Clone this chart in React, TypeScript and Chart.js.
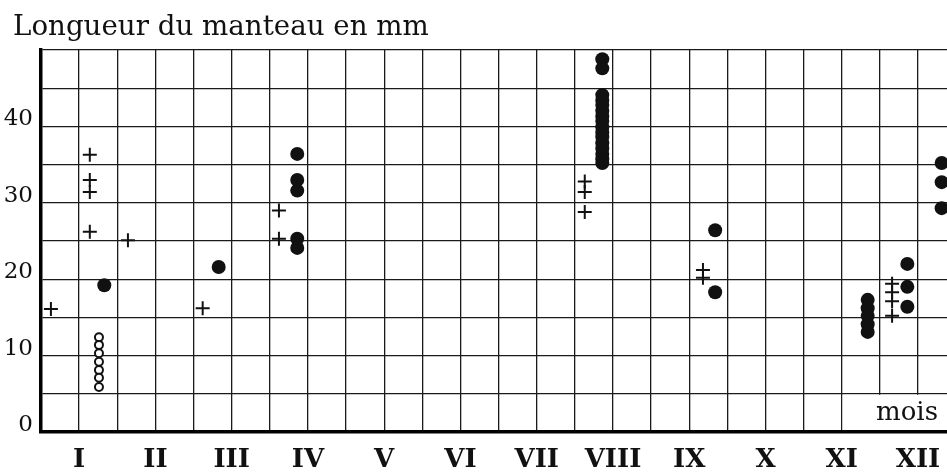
import { useEffect, useRef } from 'react';
import { Chart, registerables } from 'chart.js';

Chart.register(...registerables);

// ---- data (month position, mantle length in mm) ----
const monthLabels = ['I', 'II', 'III', 'IV', 'V', 'VI', 'VII', 'VIII', 'IX', 'X', 'XI', 'XII'];
const xGridValues = [0.5, 1, 1.5, 2, 2.5, 3, 3.5, 4, 4.5, 5, 5.5, 6, 6.5, 7, 7.5, 8, 8.5, 9, 9.5, 10, 10.5, 11, 11.5, 12];
const yGridValues = [0, 5, 10, 15, 20, 25, 30, 35, 40, 45, 50];
const yLabelValues = [0, 10, 20, 30, 40];

const crossPoints: [number, number][] = [
  [0.63, 16.1],
  [1.14, 36.3], [1.14, 33.0], [1.14, 31.4], [1.14, 26.2],
  [1.64, 25.1],
  [2.62, 16.2],
  [3.62, 29.0], [3.62, 25.3],
  [7.63, 32.8], [7.63, 31.4], [7.63, 28.8],
  [9.18, 21.2], [9.18, 20.2],
  [11.66, 19.4], [11.66, 18.3], [11.66, 17.1], [11.66, 15.2],
];

const filledPoints: [number, number][] = [
  [1.33, 19.2],
  [2.83, 21.6],
  [3.86, 36.4], [3.86, 33.0], [3.86, 31.6], [3.86, 25.3], [3.86, 24.1],
  [7.86, 48.8], [7.86, 47.6],
  [7.86, 44.1], [7.86, 43.4], [7.86, 42.8], [7.86, 42.0], [7.86, 41.3], [7.86, 40.7], [7.86, 39.9],
  [7.86, 39.2], [7.86, 38.6], [7.86, 37.8], [7.86, 37.1], [7.86, 36.4], [7.86, 35.7], [7.86, 35.2],
  [9.34, 26.4], [9.34, 18.3],
  [11.34, 17.3], [11.34, 16.2], [11.34, 15.2], [11.34, 14.1], [11.34, 13.1],
  [11.86, 22.0], [11.86, 19.0], [11.86, 16.4],
  [12.31, 35.2], [12.31, 32.7], [12.31, 29.3],
];

const openPoints: [number, number][] = [
  [1.26, 12.4], [1.26, 11.4], [1.26, 10.3], [1.26, 9.2], [1.26, 8.1], [1.26, 7.1], [1.26, 5.9],
];

const titleText = 'Longueur du manteau en mm';
const axisNote = 'mois';

const toXY = (pts: [number, number][]) => pts.map(([x, y]) => ({ x, y }));

const annotationPlugin = {
  id: 'annotations',
  afterDraw(chart: any) {
    const { ctx, chartArea } = chart;
    const x = chart.scales.x;
    const y = chart.scales.y;
    ctx.save();
    // white box behind "mois"
    const left = x.getPixelForValue(11) + 1;
    const top = y.getPixelForValue(5) + 1;
    const bottom = y.getPixelForValue(0) - 2;
    ctx.fillStyle = '#ffffff';
    ctx.fillRect(left, top, chartArea.right - left, bottom - top);
    ctx.fillStyle = '#111111';
    ctx.font = '26px "DejaVu Serif"';
    ctx.textAlign = 'right';
    ctx.textBaseline = 'alphabetic';
    ctx.fillText(axisNote, chartArea.right - 9, y.getPixelForValue(0) - 12);
    // title
    ctx.font = '27.7px "DejaVu Serif"';
    ctx.textAlign = 'left';
    ctx.fillText(titleText, 13, 35);
    ctx.restore();
  },
};

export default function App() {
  const canvasRef = useRef<HTMLCanvasElement>(null);

  useEffect(() => {
    const canvas = canvasRef.current;
    if (!canvas) return;
    const chart = new Chart(canvas, {
      type: 'scatter',
      data: {
        datasets: [
          {
            label: 'croix',
            data: toXY(crossPoints),
            pointStyle: 'cross',
            pointRadius: 7,
            pointBorderWidth: 2,
            pointBorderColor: '#111',
            pointBackgroundColor: '#111',
          },
          {
            label: 'plein',
            data: toXY(filledPoints),
            pointStyle: 'circle',
            pointRadius: 7,
            pointBorderWidth: 0,
            pointBorderColor: '#111',
            pointBackgroundColor: '#111',
          },
          {
            label: 'vide',
            data: toXY(openPoints),
            pointStyle: 'circle',
            pointRadius: 4,
            pointBorderWidth: 2,
            pointBorderColor: '#111',
            pointBackgroundColor: '#fff',
          },
        ],
      },
      options: {
        animation: false,
        responsive: false,
        events: [],
        layout: { autoPadding: false, padding: { top: 50, left: 0, right: 0, bottom: 0 } },
        plugins: { legend: { display: false }, tooltip: { enabled: false }, title: { display: false } },
        scales: {
          x: {
            type: 'linear',
            min: 0.5,
            max: 12.38,
            afterBuildTicks: (s: any) => {
              s.ticks = xGridValues.map((v) => ({ value: v }));
            },
            afterFit: (s: any) => {
              s.height = 41;
              s.paddingLeft = 0;
              s.paddingRight = 0;
            },
            grid: { color: '#1a1a1a', lineWidth: 1.3, drawTicks: false },
            border: { display: true, color: '#000', width: 3.5 },
            ticks: {
              autoSkip: false,
              maxRotation: 0,
              minRotation: 0,
              padding: 13,
              color: '#111',
              font: { family: '"DejaVu Serif"', size: 26, weight: 'bold' },
              callback: (v: any) => (Number.isInteger(v) ? monthLabels[v - 1] : ''),
            },
          },
          y: {
            type: 'linear',
            min: 0,
            max: 50,
            afterBuildTicks: (s: any) => {
              s.ticks = yGridValues.map((v) => ({ value: v }));
            },
            afterFit: (s: any) => {
              s.width = 41;
              s.paddingTop = 0;
              s.paddingBottom = 0;
            },
            grid: { color: '#1a1a1a', lineWidth: 1.3, drawTicks: false },
            border: { display: true, color: '#000', width: 3.5 },
            ticks: {
              autoSkip: false,
              padding: 8,
              labelOffset: -7,
              color: '#111',
              font: { family: '"DejaVu Serif"', size: 23 },
              callback: (v: any) => (yLabelValues.includes(v) ? String(v) : ''),
            },
          },
        },
      },
      plugins: [annotationPlugin],
    } as any);
    return () => chart.destroy();
  }, []);

  return (
    <div style={{ position: 'absolute', left: 0, top: 0, width: 947, height: 473, background: '#fff' }}>
      <canvas ref={canvasRef} width={947} height={473} style={{ display: 'block' }} />
    </div>
  );
}
